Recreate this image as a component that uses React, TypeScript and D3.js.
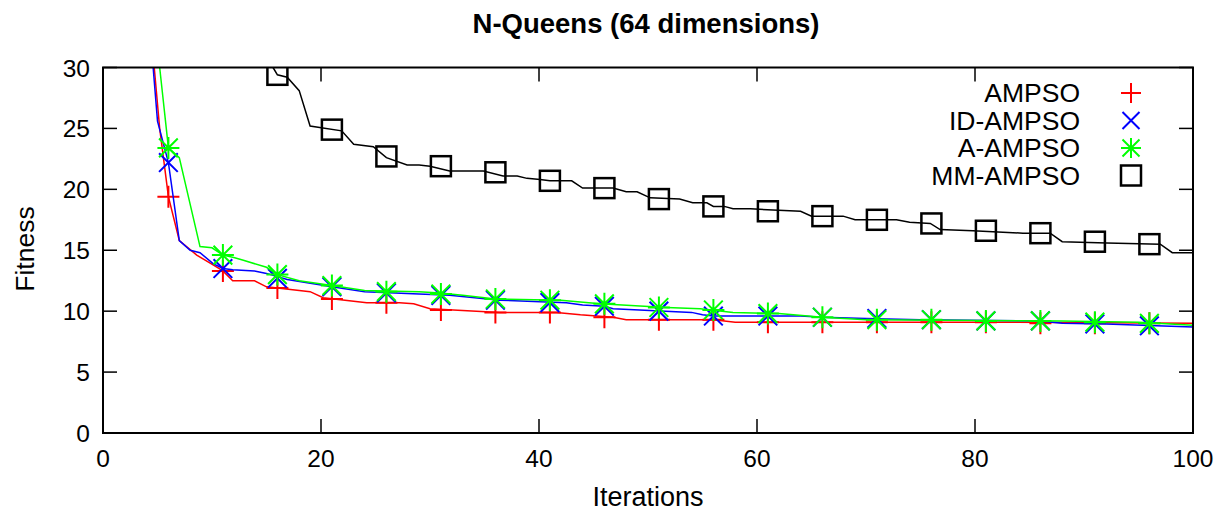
import React from 'react';
import * as d3 from 'd3';

// line vertices [iteration, fitness]
const ampsoLine: [number, number][] = [
  [4.7, 30], [5.2, 25], [6, 19.4], [7, 15.8], [8.6, 14.6], [10.1, 13.8], [11, 13.3],
  [11.9, 12.5], [13.9, 12.5], [15, 12.0], [16, 11.9], [19, 11.6], [20.2, 11.1],
  [24.2, 10.7], [27.2, 10.7], [28.5, 10.6], [30, 10.2], [36.4, 9.9], [41.6, 9.9],
  [43.8, 9.7], [46.8, 9.5], [48, 9.3], [56, 9.3], [58, 9.1], [80, 9.1], [100, 9.0],
];
const idAmpsoLine: [number, number][] = [
  [4.6, 30], [5, 25.6], [6, 22.2], [7, 15.8], [8, 15.0], [8.9, 14.8], [10.1, 13.9],
  [11, 13.5], [11.9, 13.4], [13.9, 13.3], [15, 13.1], [16.9, 12.6], [21, 12.0],
  [24, 11.6], [29, 11.4], [31.8, 11.3], [36.4, 10.9], [42.5, 10.7], [44, 10.5],
  [46, 10.4], [46.8, 10.2], [54, 9.9], [55, 9.7], [56, 9.6], [64, 9.6], [66, 9.5],
  [70, 9.4], [75, 9.3], [86, 9.2], [88, 9.0], [92, 8.95], [100, 8.7],
];
const aAmpsoLine: [number, number][] = [
  [5.2, 30], [6, 23.4], [7, 22.6], [8.9, 15.3], [10, 15.2], [11, 14.6], [12, 14.4],
  [12.8, 14.2], [15, 13.6], [16, 13.0], [18, 12.5], [21, 12.1], [24, 11.7], [29, 11.6],
  [30.9, 11.5], [33, 11.3], [36, 11.0], [42, 10.9], [45.6, 10.6], [51.7, 10.3],
  [54.8, 10.2], [57.8, 9.9], [62, 9.8], [66, 9.5], [70, 9.3], [88, 9.2], [95, 9.1],
  [100, 8.85],
];
const mmAmpsoLine: [number, number][] = [
  [15.6, 30], [16, 29.4], [16.9, 29.2], [18, 28.1], [19, 25.2], [21.9, 24.8], [23, 23.7],
  [24.8, 23.5], [26, 22.6], [27.9, 22.0], [29, 22.0], [30, 21.9], [31.8, 21.5],
  [34.9, 21.5], [36.7, 21.1], [38, 21.1], [38.9, 20.9], [40.1, 20.8], [41, 20.7],
  [43, 20.7], [44, 20.1], [46.8, 20.1], [48, 19.8], [49, 19.8], [50.2, 19.3],
  [52.9, 19.2], [54.1, 18.9], [55.4, 18.9], [56, 18.6], [57, 18.6], [57.8, 18.4],
  [59.4, 18.4], [64, 18.2], [65, 17.8], [67.9, 17.8], [69, 17.5], [72.8, 17.5],
  [74, 17.3], [75.9, 17.2], [76.8, 16.7], [79.8, 16.6], [84.4, 16.4], [86.9, 16.4],
  [88, 15.7], [92.1, 15.6], [97, 15.5], [98.1, 14.8], [100, 14.8],
];

// point samples every 5 iterations
const markerIters = [6, 11, 16, 21, 26, 31, 36, 41, 46, 51, 56, 61, 66, 71, 76, 81, 86, 91, 96];
const ampsoMarks = [19.4, 13.3, 11.9, 11.0, 10.7, 10.1, 9.9, 9.9, 9.5, 9.3, 9.3, 9.1, 9.1, 9.1, 9.1, 9.1, 9.0, 9.0, 9.0];
const idAmpsoMarks = [22.2, 13.5, 12.7, 12.0, 11.5, 11.3, 10.9, 10.7, 10.4, 10.0, 9.6, 9.6, 9.5, 9.4, 9.3, 9.2, 9.2, 8.95, 8.8];
const aAmpsoMarks = [23.4, 14.6, 13.0, 12.1, 11.6, 11.4, 11.0, 10.9, 10.6, 10.3, 10.1, 9.8, 9.5, 9.3, 9.3, 9.2, 9.2, 9.1, 9.0];
const mmAmpsoMarks = [null, null, 29.4, 24.9, 22.7, 21.9, 21.4, 20.7, 20.1, 19.2, 18.6, 18.2, 17.8, 17.5, 17.2, 16.6, 16.4, 15.7, 15.5];

const xTicks = [0, 20, 40, 60, 80, 100];
const yTicks = [0, 5, 10, 15, 20, 25, 30];

const series = [
  { name: 'AMPSO', color: '#ff0000', shape: 'plus', line: ampsoLine, marks: ampsoMarks },
  { name: 'ID-AMPSO', color: '#0000ff', shape: 'cross', line: idAmpsoLine, marks: idAmpsoMarks },
  { name: 'A-AMPSO', color: '#00ff00', shape: 'star', line: aAmpsoLine, marks: aAmpsoMarks },
  { name: 'MM-AMPSO', color: '#000000', shape: 'square', line: mmAmpsoLine, marks: mmAmpsoMarks },
];

const W = 1222;
const H = 513;
const left = 103;
const right = 1193;
const top = 67.5;
const bottom = 433;
const font = '"Liberation Sans", Arial, sans-serif';

function Marker({ shape, x, y, color, s = 11 }: { shape: string; x: number; y: number; color: string; s?: number }) {
  const sw = 2;
  const d = s * 0.85;
  if (shape === 'plus') {
    return <path d={`M${x - s},${y}H${x + s}M${x},${y - s}V${y + s}`} stroke={color} strokeWidth={sw} fill="none" />;
  }
  if (shape === 'cross') {
    return <path d={`M${x - d},${y - d}L${x + d},${y + d}M${x - d},${y + d}L${x + d},${y - d}`} stroke={color} strokeWidth={sw} fill="none" />;
  }
  if (shape === 'star') {
    return (
      <path
        d={`M${x - s},${y}H${x + s}M${x},${y - s}V${y + s}M${x - d},${y - d}L${x + d},${y + d}M${x - d},${y + d}L${x + d},${y - d}`}
        stroke={color} strokeWidth={sw} fill="none"
      />
    );
  }
  return <rect x={x - 10} y={y - 10} width={20} height={20} stroke={color} strokeWidth={2.5} fill="none" />;
}

export default function App() {
  const x = d3.scaleLinear().domain([0, 100]).range([left, right]);
  const y = d3.scaleLinear().domain([0, 30]).range([bottom, top]);
  const line = d3.line<[number, number]>().x(d => x(d[0])).y(d => y(d[1]));
  const tick = 14;

  return (
    <svg width={W} height={H} style={{ position: 'absolute', left: 0, top: 0, background: '#fff' }} fontFamily={font}>
      <defs>
        <clipPath id="plot">
          <rect x={left} y={top} width={right - left} height={bottom - top} />
        </clipPath>
      </defs>

      <text x={646} y={33} textAnchor="middle" fontSize={27.5} fontWeight="bold" fill="#000">N-Queens (64 dimensions)</text>

      {/* ticks, mirrored on all sides */}
      {xTicks.map(t => (
        <g key={'x' + t}>
          <line x1={x(t)} x2={x(t)} y1={bottom} y2={bottom - tick} stroke="#000" strokeWidth={1.5} />
          <line x1={x(t)} x2={x(t)} y1={top} y2={top + tick} stroke="#000" strokeWidth={1.5} />
          <text x={x(t)} y={467} textAnchor="middle" fontSize={24.5} fill="#000">{t}</text>
        </g>
      ))}
      {yTicks.map(t => (
        <g key={'y' + t}>
          <line x1={left} x2={left + tick} y1={y(t)} y2={y(t)} stroke="#000" strokeWidth={1.5} />
          <line x1={right} x2={right - tick} y1={y(t)} y2={y(t)} stroke="#000" strokeWidth={1.5} />
          <text x={90} y={y(t) + 9} textAnchor="end" fontSize={24.5} fill="#000">{t}</text>
        </g>
      ))}

      <text x={648} y={506} textAnchor="middle" fontSize={27} fill="#000">Iterations</text>
      <text transform="translate(34,249) rotate(-90)" textAnchor="middle" fontSize={26.5} fill="#000">Fitness</text>

      <g clipPath="url(#plot)">
        {series.map(s => (
          <g key={s.name}>
            <path d={line(s.line) ?? ''} fill="none" stroke={s.color} strokeWidth={1.5} />
            {s.marks.map((v, i) =>
              v == null ? null : <Marker key={i} shape={s.shape} x={x(markerIters[i])} y={y(v)} color={s.color} />
            )}
          </g>
        ))}
      </g>

      {/* legend */}
      {series.map((s, i) => (
        <g key={'leg' + s.name}>
          <text x={1080} y={93 + i * 27.5 + 9} textAnchor="end" fontSize={26.5} fill="#000">{s.name}</text>
          <Marker shape={s.shape} x={1131} y={93 + i * 27.5} color={s.color} s={s.shape === 'square' ? 11 : 10} />
        </g>
      ))}

      <rect x={left} y={top} width={right - left} height={bottom - top} fill="none" stroke="#000" strokeWidth={2} />
    </svg>
  );
}
